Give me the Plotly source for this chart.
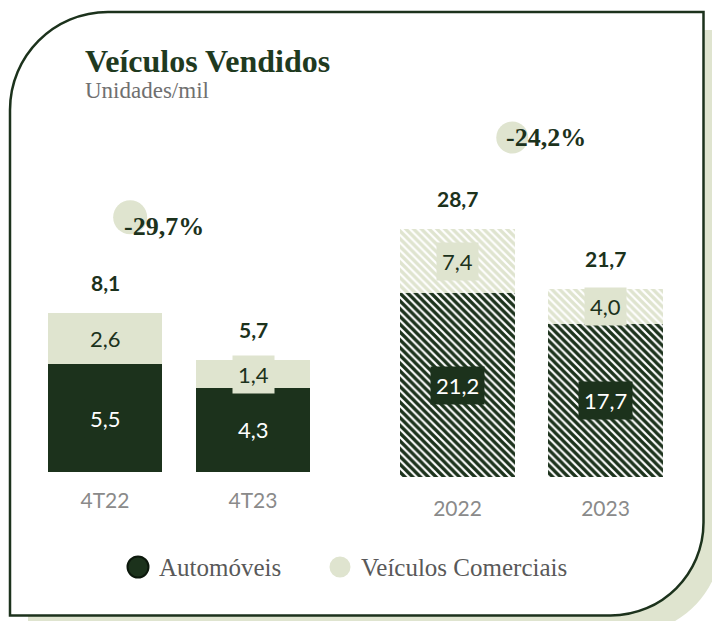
import plotly.graph_objects as go

# ---------------- data ----------------
quarters = ["4T22", "4T23"]
years = ["2022", "2023"]
series_names = ["Automóveis", "Veículos Comerciais"]
auto_quarters = [5.5, 4.3]
comerc_quarters = [2.6, 1.4]
total_quarters = [8.1, 5.7]
auto_years = [21.2, 17.7]
comerc_years = [7.4, 4.0]
total_years = [28.7, 21.7]
variation_labels = ["-29,7%", "-24,2%"]
title_text = "Veículos Vendidos"
subtitle_text = "Unidades/mil"

# ---------------- style ----------------
W, H = 712, 621
DARK = "#1c321c"
LIGHT = "#dfe4cf"
GRAY_TICK = "#8a8a8a"
SANS = "Lato"
SERIF = "Liberation Serif"


def fx(p):
    return p / W


def fy(p):
    return 1 - p / H


def fmt(v):
    return f"{v:.1f}".replace(".", ",")


# axis geometry (pixels)
left_bottom, left_scale, left_range = 472, 19.6, 14
right_bottom, right_scale, right_range = 477, 8.66, 42

xq = list(range(len(quarters)))
xy = list(range(len(years)))

fig = go.Figure()

# ---- bars: quarters (solid) ----
fig.add_trace(go.Bar(x=xq, y=auto_quarters, name=series_names[0],
                     marker=dict(color=DARK, line=dict(width=0)), width=0.77,
                     xaxis="x", yaxis="y", showlegend=False, hoverinfo="skip"))
fig.add_trace(go.Bar(x=xq, y=comerc_quarters, name=series_names[1],
                     marker=dict(color=LIGHT, line=dict(width=0)), width=0.77,
                     xaxis="x", yaxis="y", showlegend=False, hoverinfo="skip"))
# ---- bars: years (hatched) ----
fig.add_trace(go.Bar(x=xy, y=auto_years, name=series_names[0],
                     marker=dict(color="white", line=dict(width=0),
                                 pattern=dict(shape="\\", fgcolor=DARK, bgcolor="white",
                                              size=5.5, solidity=0.6, fillmode="replace")),
                     width=0.78, xaxis="x2", yaxis="y2", showlegend=False, hoverinfo="skip"))
fig.add_trace(go.Bar(x=xy, y=comerc_years, name=series_names[1],
                     marker=dict(color="white", line=dict(width=0),
                                 pattern=dict(shape="\\", fgcolor=LIGHT, bgcolor="white",
                                              size=5.5, solidity=0.6, fillmode="replace")),
                     width=0.78, xaxis="x2", yaxis="y2", showlegend=False, hoverinfo="skip"))

annotations = []
shapes = []

# ---- card shadow + card ----
def card_path(L, T, R, B, r1, r2, dx=0, dy=0):
    k = 0.5523
    L, R, T, B = L + dx, R + dx, T + dy, B + dy
    pts = [
        f"M {fx(L)},{fy(T + r1)}",
        f"C {fx(L)},{fy(T + r1 * (1 - k))} {fx(L + r1 * (1 - k))},{fy(T)} {fx(L + r1)},{fy(T)}",
        f"L {fx(R)},{fy(T)}",
        f"L {fx(R)},{fy(B - r2)}",
        f"C {fx(R)},{fy(B - r2 * (1 - k))} {fx(R - r2 * (1 - k))},{fy(B)} {fx(R - r2)},{fy(B)}",
        f"L {fx(L)},{fy(B)}",
        "Z",
    ]
    return " ".join(pts)


CARD = (10, 12, 703.5, 615.5, 98, 93)
shapes.append(dict(type="path", xref="paper", yref="paper", layer="below",
                   path=card_path(*CARD, dx=18, dy=18), fillcolor=LIGHT, line=dict(width=0)))
shapes.append(dict(type="path", xref="paper", yref="paper", layer="below",
                   path=card_path(*CARD), fillcolor="white", line=dict(color=DARK, width=2.5)))

# ---- segment labels ----
def seg_labels(xs, bottoms, values, xref, yref, bg, fg):
    for c, b, v in zip(xs, bottoms, values):
        annotations.append(dict(x=c, y=b + v / 2, xref=xref, yref=yref, text=fmt(v),
                                showarrow=False, bgcolor=bg, borderpad=5,
                                font=dict(family=SANS, size=22, color=fg)))


seg_labels(xq, [0] * len(xq), auto_quarters, "x", "y", DARK, "white")
seg_labels(xq, auto_quarters, comerc_quarters, "x", "y", LIGHT, DARK)
seg_labels(xy, [0] * len(xy), auto_years, "x2", "y2", DARK, "white")
seg_labels(xy, auto_years, comerc_years, "x2", "y2", LIGHT, DARK)

# ---- totals ----
for xs, a, c, tot, xr, yr in [(xq, auto_quarters, comerc_quarters, total_quarters, "x", "y"),
                              (xy, auto_years, comerc_years, total_years, "x2", "y2")]:
    for xv, av, cv, t in zip(xs, a, c, tot):
        annotations.append(dict(x=xv, y=av + cv, xref=xr, yref=yr, text=f"<b>{fmt(t)}</b>",
                                showarrow=False, yshift=31, yanchor="middle",
                                font=dict(family=SANS, size=21, color=DARK)))

# ---- variation bubbles ----
var_pos = [  # (text x, text y, circle x, circle y, radius, xref, yref)
    (0.40, 12.5, 0.17, 13.0, 17, "x", "y"),
    (0.60, 39.2, 0.37, 39.2, 16, "x2", "y2"),
]
for lab, (tx, ty, cx, cy, r, xr, yr) in zip(variation_labels, var_pos):
    shapes.append(dict(type="circle", xref=xr, yref=yr, xsizemode="pixel", ysizemode="pixel",
                       xanchor=cx, yanchor=cy, x0=-r, x1=r, y0=-r, y1=r,
                       fillcolor=LIGHT, line=dict(width=0), layer="above"))
    annotations.append(dict(x=tx, y=ty, xref=xr, yref=yr, text=f"<b>{lab}</b>", showarrow=False,
                            font=dict(family=SERIF, size=26, color=DARK)))

# ---- title ----
annotations.append(dict(x=fx(83), y=fy(61), xref="paper", yref="paper", xanchor="left",
                        yanchor="middle", text=f"<b>{title_text}</b>", showarrow=False,
                        font=dict(family=SERIF, size=32, color="#1f3a1f")))
annotations.append(dict(x=fx(83), y=fy(91), xref="paper", yref="paper", xanchor="left",
                        yanchor="middle", text=subtitle_text, showarrow=False,
                        font=dict(family=SERIF, size=23, color="#707070")))

# ---- manual legend ----
legend_items = [(138, DARK, "#0c180c", 2), (340, LIGHT, LIGHT, 0)]
for name, (cx, fill, lc, lw) in zip(series_names, legend_items):
    shapes.append(dict(type="circle", xref="paper", yref="paper",
                       x0=fx(cx - 10.5), x1=fx(cx + 10.5), y0=fy(567 + 10.5), y1=fy(567 - 10.5),
                       fillcolor=fill, line=dict(color=lc, width=lw), layer="above"))
    annotations.append(dict(x=fx(cx + 19), y=fy(567), xref="paper", yref="paper", xanchor="left",
                            yanchor="middle", text=name, showarrow=False,
                            font=dict(family=SERIF, size=25, color="#595959")))

axis_common = dict(type="linear", range=[-0.5, 1.5], showgrid=False, zeroline=False,
                   showline=False, ticks="",
                   tickfont=dict(family=SANS, size=21, color=GRAY_TICK),
                   fixedrange=True)

fig.update_layout(
    width=W, height=H, margin=dict(l=0, r=0, t=0, b=0),
    paper_bgcolor="white", plot_bgcolor="rgba(0,0,0,0)",
    barmode="stack", showlegend=False,
    xaxis=dict(domain=[fx(31), fx(327)], anchor="y", tickvals=xq, ticktext=quarters,
               ticklabelstandoff=14, **axis_common),
    xaxis2=dict(domain=[fx(383.5), fx(679.5)], anchor="y2", tickvals=xy, ticktext=years,
                ticklabelstandoff=17, **axis_common),
    yaxis=dict(domain=[fy(left_bottom), fy(left_bottom - left_range * left_scale)],
               range=[0, left_range], visible=False, anchor="x", fixedrange=True),
    yaxis2=dict(domain=[fy(right_bottom), fy(right_bottom - right_range * right_scale)],
                range=[0, right_range], visible=False, anchor="x2", fixedrange=True),
    shapes=shapes, annotations=annotations,
)

fig.write_html("out.html", config={"displayModeBar": False},
               post_script="document.body.style.margin='0';document.body.style.overflow='hidden';")
